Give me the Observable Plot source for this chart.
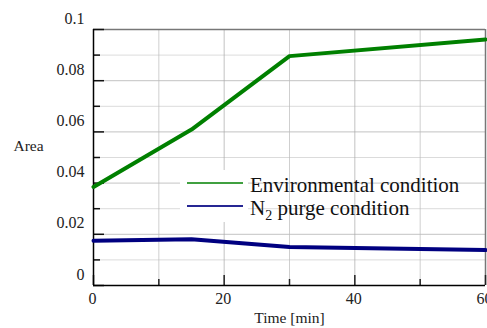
<!DOCTYPE html>
<html>
<head>
<meta charset="utf-8">
<script src="https://cdn.jsdelivr.net/npm/d3@7"></script>
<script src="https://cdn.jsdelivr.net/npm/@observablehq/plot@0.6"></script>
<style>
  html, body { margin: 0; padding: 0; background: #fff; }
  #chart svg { display: block; }
  #chart svg text { font-family: "Liberation Serif", "DejaVu Serif", serif !important; }
</style>
</head>
<body>
<div id="chart"></div>
<script>
const times = [0, 15, 30, 60];
const envArea = [0.0385, 0.0609, 0.0896, 0.0961];
const n2Area = [0.0175, 0.0181, 0.0150, 0.0139];
const seriesNames = ["Environmental condition", "N2 purge condition"];
const seriesColors = ["#008000", "#000080"];
const xMajor = [0, 20, 40, 60];
const xMinor = [10, 30, 50];
const yMajor = [0, 0.02, 0.04, 0.06, 0.08, 0.1];
const yMinor = [0.01, 0.03, 0.05, 0.07, 0.09];

const env = times.map((t, i) => ({t, v: envArea[i]}));
const n2 = times.map((t, i) => ({t, v: n2Area[i]}));

const W = 487, H = 328, ML = 93, MR = 2, MT = 29, MB = 43;
const innerH = H - MT - MB, innerW = W - ML - MR;
const fmt = d => String(+d.toFixed(2));
const SERIF = "Liberation Serif";

const plot = Plot.plot({
  width: W, height: H,
  marginLeft: ML, marginRight: MR, marginTop: MT, marginBottom: MB,
  style: {fontFamily: SERIF, fontSize: "16px", color: "#222", background: "#fff"},
  x: {domain: [0, 60], axis: null},
  y: {domain: [0, 0.1], axis: null},
  marks: [
    Plot.gridY(yMinor, {stroke: "#ccc", strokeOpacity: 0.7, strokeWidth: 1}),
    Plot.gridY(yMajor, {stroke: "#aaa", strokeOpacity: 0.7, strokeWidth: 1}),
    Plot.gridX(xMinor, {stroke: "#bbb", strokeOpacity: 0.7, strokeWidth: 1}),
    Plot.gridX(xMajor, {stroke: "#aaa", strokeOpacity: 0.7, strokeWidth: 1}),
    Plot.ruleY([0.1], {stroke: "#777", strokeWidth: 1.5}),
    Plot.ruleX([60], {stroke: "#777", strokeWidth: 1.5}),
    Plot.tickX(xMajor, {x: d => d, insetTop: innerH - 10, stroke: "#222", strokeWidth: 1.5}),
    Plot.tickX(xMinor, {x: d => d, insetTop: innerH - 6, stroke: "#222", strokeWidth: 1.5}),
    Plot.tickY(yMajor, {y: d => d, insetRight: innerW - 11, stroke: "#111", strokeWidth: 1.5}),
    Plot.tickY(yMinor, {y: d => d, insetRight: innerW - 7, stroke: "#111", strokeWidth: 1.5}),
    Plot.ruleX([0], {stroke: "#000", strokeWidth: 1.5}),
    Plot.ruleY([0], {stroke: "#000", strokeWidth: 1.5}),
    Plot.axisY(yMajor, {tickSize: 0, tickPadding: 9, dy: -11, tickFormat: fmt, fontSize: 16, fill: "#222", label: null}),
    Plot.axisX(xMajor, {tickSize: 0, tickPadding: 7, tickFormat: fmt, fontSize: 16, fill: "#222", dx: -1, label: null}),
    Plot.text(["Time [min]"], {frameAnchor: "bottom", dy: 37, fontSize: 15.5, fill: "#222"}),
    Plot.text(["Area"], {frameAnchor: "left", textAnchor: "start", dx: -80, dy: -11, fontSize: 15.5, fill: "#222"}),
    Plot.line(env, {x: "t", y: "v", stroke: seriesColors[0], strokeWidth: 4}),
    Plot.line(n2, {x: "t", y: "v", stroke: seriesColors[1], strokeWidth: 4})
  ]
});
document.getElementById("chart").appendChild(plot);

// Legend (layout in pixels)
const svg = d3.select(plot);
const lg = svg.append("g").attr("font-size", 21).attr("fill", "#111").attr("text-anchor", "start");
lg.append("rect").attr("x", 180).attr("y", 170).attr("width", 68).attr("height", 52).attr("fill", "#fff");
lg.append("line").attr("x1", 187).attr("x2", 243).attr("y1", 183).attr("y2", 183).attr("stroke", seriesColors[0]).attr("stroke-width", 2).attr("stroke-opacity", 0.75);
lg.append("line").attr("x1", 187).attr("x2", 243).attr("y1", 206).attr("y2", 206).attr("stroke", seriesColors[1]).attr("stroke-width", 2).attr("stroke-opacity", 0.85);
lg.append("text").attr("x", 250).attr("y", 192).text(seriesNames[0]);
const t2 = lg.append("text").attr("x", 250).attr("y", 215);
t2.append("tspan").text("N");
t2.append("tspan").attr("font-size", 14).attr("dy", 5).text("2");
t2.append("tspan").attr("dy", -5).text(" purge condition");
</script>
</body>
</html>
